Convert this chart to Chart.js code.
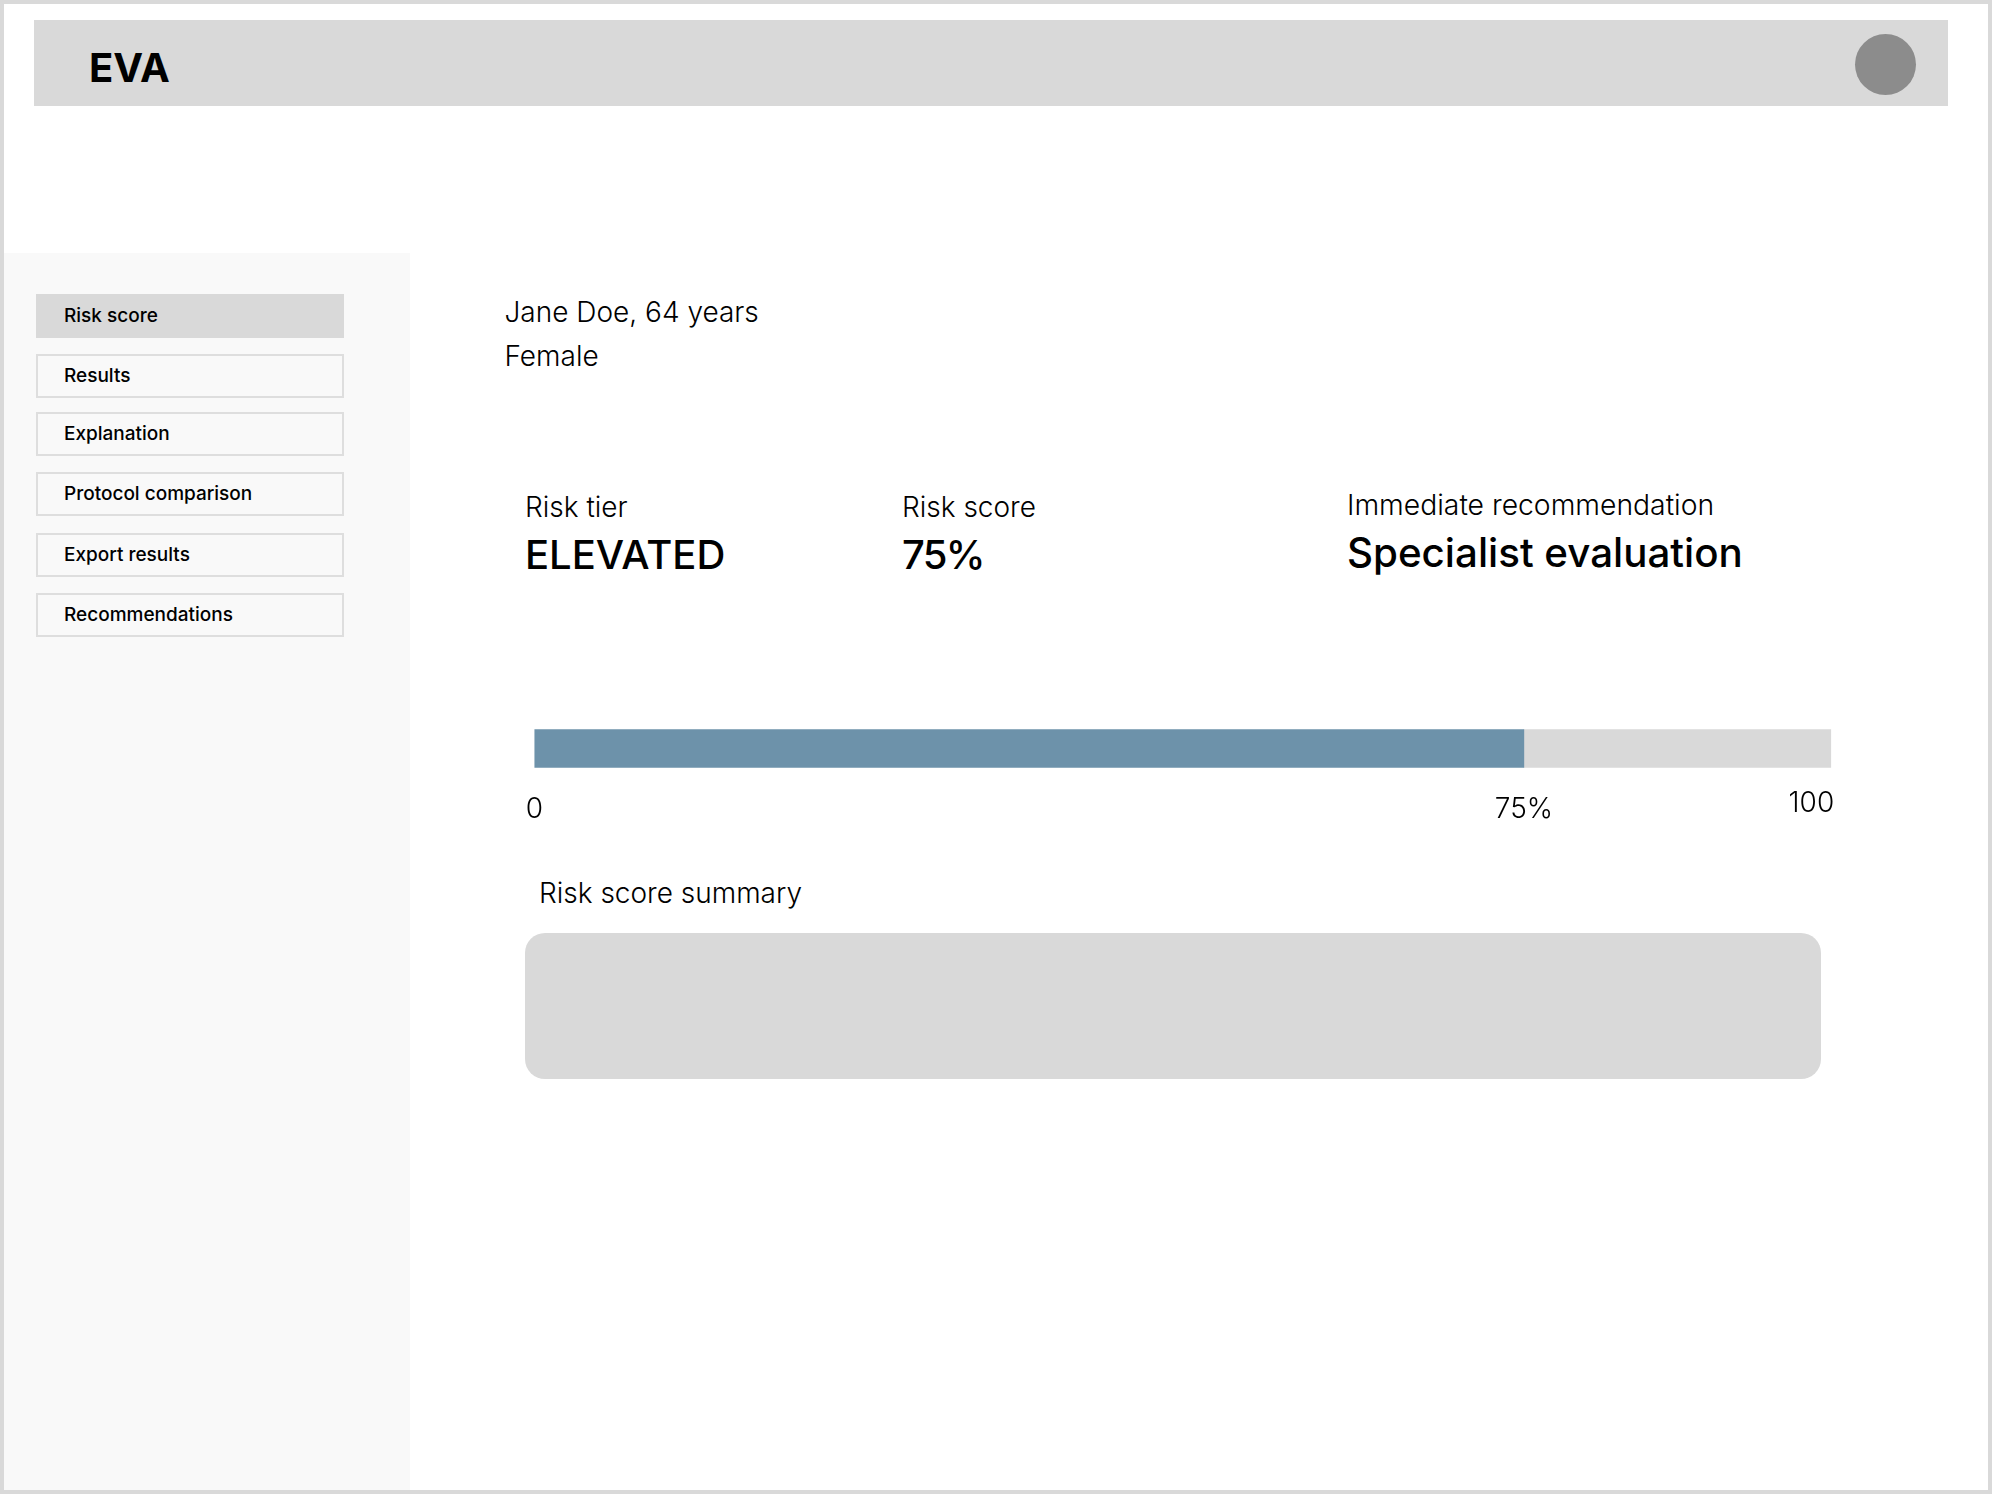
<!DOCTYPE html>
<html>
<head>
<meta charset="utf-8">
<title>EVA</title>
<script src="https://cdn.jsdelivr.net/npm/chart.js@4"></script>
<style>
  html, body { margin: 0; padding: 0; background: #fff; }
  body { width: 1992px; height: 1494px; position: relative; overflow: hidden; font-family: Inter, sans-serif; color: #000; }
  .frame { position: absolute; left: 0; top: 0; width: 1992px; height: 1494px; box-sizing: border-box; border: 4px solid #d9d9d9; pointer-events: none; z-index: 5; }
  .header { position: absolute; left: 34px; top: 20px; width: 1914px; height: 86px; background: #d9d9d9; }
  .logo { position: absolute; left: 89px; top: 43px; font-size: 40px; line-height: 50px; font-weight: 700; }
  .avatar { position: absolute; left: 1855px; top: 34px; width: 61px; height: 61px; border-radius: 50%; background: #8c8c8c; }
  .sidebar { position: absolute; left: 4px; top: 253px; width: 406px; height: 1237px; background: #f9f9f9; }
  .nav { position: absolute; left: 36px; width: 308px; height: 44px; box-sizing: border-box; border: 2.5px solid #dedede; padding-left: 26px; font-size: 19px; line-height: 40px; font-weight: 500; }
  .nav.active { background: #d9d9d9; border-color: #d9d9d9; }
  .txt { position: absolute; white-space: nowrap; line-height: 40px; }
  .light { font-size: 28px; font-weight: 300; }
  .big { font-size: 40px; font-weight: 500; line-height: 50px; }
  .summary { position: absolute; left: 525px; top: 933px; width: 1296px; height: 146px; background: #d9d9d9; border-radius: 20px; }
  #gauge { position: absolute; left: 484px; top: 709px; }
</style>
</head>
<body>
<div class="header"></div>
<div class="logo">EVA</div>
<div class="avatar"></div>
<div class="sidebar"></div>
<div class="nav active" style="top:293.5px">Risk score</div>
<div class="nav" style="top:354px">Results</div>
<div class="nav" style="top:412px">Explanation</div>
<div class="nav" style="top:472px">Protocol comparison</div>
<div class="nav" style="top:532.5px">Export results</div>
<div class="nav" style="top:593px">Recommendations</div>

<div class="txt light" style="left:504.5px;top:291.5px">Jane Doe, 64 years</div>
<div class="txt light" style="left:504.5px;top:336px">Female</div>
<div class="txt light" style="left:525px;top:487px">Risk tier</div>
<div class="txt big" style="left:525px;top:530px">ELEVATED</div>
<div class="txt light" style="left:902px;top:487px">Risk score</div>
<div class="txt big" style="left:902px;top:530px;letter-spacing:-1.7px">75%</div>
<div class="txt light" style="left:1347px;top:485px;font-size:28.3px">Immediate recommendation</div>
<div class="txt big" style="left:1347px;top:528px;font-size:40.3px">Specialist evaluation</div>
<div class="txt light" style="left:539px;top:873px">Risk score summary</div>
<div class="summary"></div>

<canvas id="gauge" width="1400" height="130"></canvas>
<div class="frame"></div>

<script>
const categories = ["Risk score"];
// fill end, it sits a bit past the 75 mark on the 0-100 track
const scoreValues = [76.3];
const restValues = [23.7];
const lowerTicks = [0, 76.3];
const lowerLabels = ["0", "75%"];
const endTicks = [100];
const endLabels = ["100"];

const tickFont = { family: "Inter", size: 28, weight: "300" };

new Chart(document.getElementById("gauge"), {
  type: "bar",
  data: {
    labels: categories,
    datasets: [
      { data: scoreValues, backgroundColor: "#6d92aa", barPercentage: 1, categoryPercentage: 1 },
      { data: restValues, backgroundColor: "#d9d9d9", barPercentage: 1, categoryPercentage: 1 }
    ]
  },
  options: {
    indexAxis: "y",
    responsive: false,
    animation: false,
    devicePixelRatio: 1,
    layout: { padding: { left: 50.4, right: 52.8, top: 20.3, bottom: 0 } },
    plugins: { legend: { display: false }, tooltip: { enabled: false } },
    scales: {
      y: { display: false, stacked: true },
      x: {
        stacked: true, min: 0, max: 100, position: "bottom", weight: 2,
        grid: { display: false }, border: { display: false },
        afterBuildTicks: axis => { axis.ticks = lowerTicks.map(v => ({ value: v })); },
        afterFit: axis => { axis.height = 71.3; },
        ticks: {
          autoSkip: false, maxRotation: 0, padding: 17, color: "#000", font: tickFont,
          callback: v => lowerLabels[lowerTicks.indexOf(v)]
        }
      },
      // the 100 label sits a little higher than the others, so it gets its own axis
      // mirror keeps a zero height axis from clipping its label, and flips the padding
      xEnd: {
        type: "linear", axis: "x", min: 0, max: 100, position: "bottom", weight: 1,
        grid: { display: false }, border: { display: false },
        afterBuildTicks: axis => { axis.ticks = endTicks.map(v => ({ value: v })); },
        afterFit: axis => { axis.height = 0; },
        ticks: {
          autoSkip: false, maxRotation: 0, mirror: true, padding: -52.6, align: "end", labelOffset: 3, color: "#000", font: tickFont,
          callback: v => endLabels[endTicks.indexOf(v)]
        }
      }
    }
  }
});
</script>
</body>
</html>
